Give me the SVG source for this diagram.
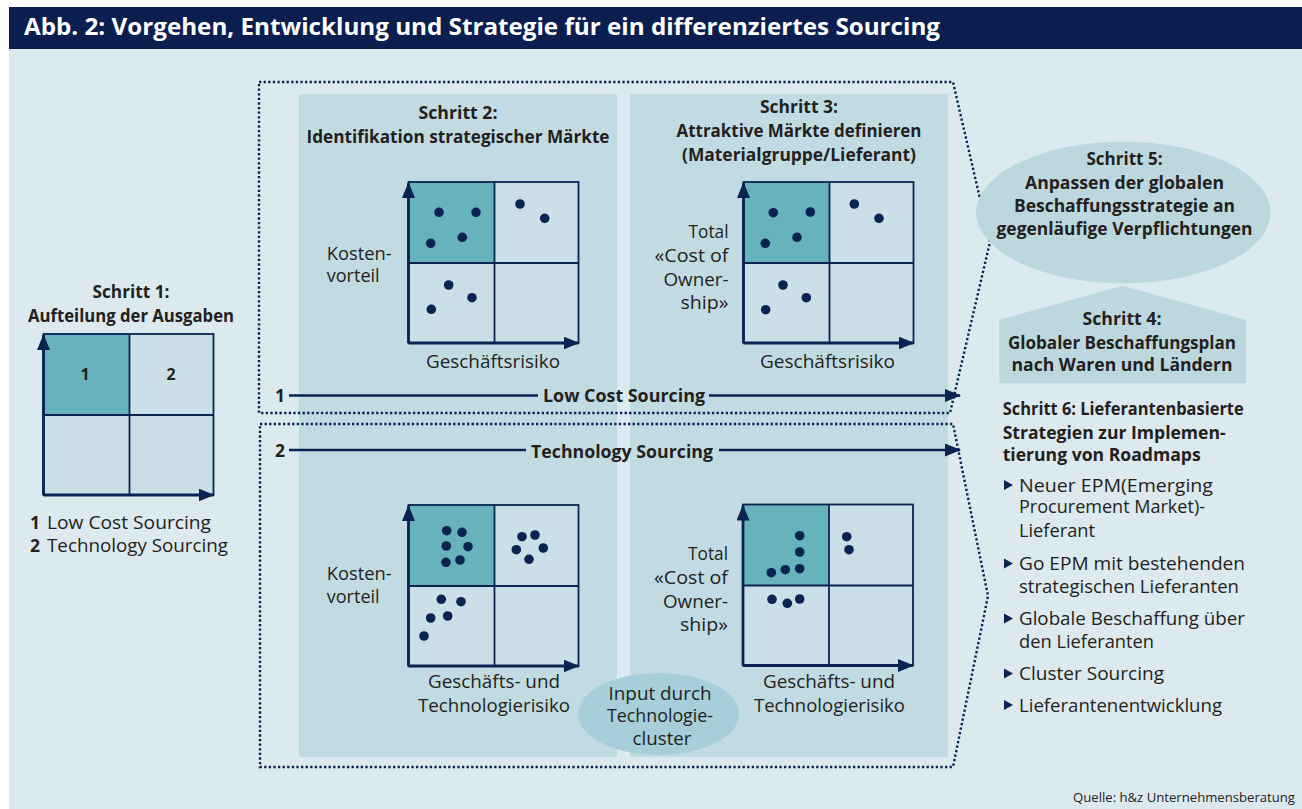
<svg xmlns="http://www.w3.org/2000/svg" xmlns:xlink="http://www.w3.org/1999/xlink" width="1302" height="809" viewBox="0 0 1302 809">
  <defs>
    <style>
      text { font-family: "Open Sans", "Noto Sans", "Liberation Sans", sans-serif; fill: #231f20; }
      .title { font-size: 24px; font-weight: 700; fill: #ffffff; }
      .h { font-size: 17.5px; font-weight: 700; text-anchor: middle; }
      .hl { font-size: 17.5px; font-weight: 700; }
      .t { font-size: 17.5px; font-weight: 400; }
      .tc { font-size: 17.5px; font-weight: 400; text-anchor: middle; }
      .tr { font-size: 17.5px; font-weight: 400; text-anchor: end; }
      .num { font-size: 16px; font-weight: 700; text-anchor: middle; }
      .src { font-size: 13.3px; font-weight: 400; text-anchor: end; }
      .panel { fill: #c2dbe3; }
      .cell-hi { fill: #67b3bd; }
      .cell { fill: #cbdfe6; }
      .grid { fill: none; stroke: #0b2352; stroke-width: 1.8; }
      .axis { fill: none; stroke: #0b2352; stroke-width: 2.8; }
      .dot { fill: #0b2352; }
      .frame { fill: none; stroke: #0b2352; stroke-width: 2.4; stroke-dasharray: 2.3 2.3; }
      .flow { fill: none; stroke: #0b2352; stroke-width: 2.4; }
      .bullet { fill: #0b2352; }
    </style>
    <marker id="head" viewBox="0 0 16 13" markerWidth="16" markerHeight="13" refX="15" refY="6.5" orient="auto" markerUnits="userSpaceOnUse">
      <path d="M0,0 L16,6.5 L0,13 Z" fill="#0b2352"/>
    </marker>
    <!-- 2x2 portfolio matrix, 170 x 162, origin at top-left -->
    <g id="matrix">
      <rect class="cell-hi" x="0" y="0" width="86" height="81"/>
      <rect class="cell" x="86" y="0" width="84" height="81"/>
      <rect class="cell" x="0" y="81" width="86" height="81"/>
      <rect class="cell" x="86" y="81" width="84" height="81"/>
      <rect class="grid" x="0" y="0" width="170" height="161"/>
      <line class="grid" x1="86" y1="0" x2="86" y2="161"/>
      <line class="grid" x1="0" y1="81" x2="170" y2="81"/>
      <line class="axis" x1="0" y1="161" x2="0" y2="1" marker-end="url(#head)"/>
      <line class="axis" x1="0" y1="161" x2="170" y2="161" marker-end="url(#head)"/>
    </g>
  </defs>

  <!-- page background and title bar -->
  <rect x="0" y="0" width="1302" height="809" fill="#ffffff"/>
  <rect x="9" y="49" width="1293" height="760" fill="#dce9ee"/>
  <g id="title">
    <rect x="9" y="7" width="1293" height="42" fill="#0a1f4f"/>
    <text class="title" x="24" y="35" textLength="916" lengthAdjust="spacingAndGlyphs">Abb. 2: Vorgehen, Entwicklung und Strategie für ein differenziertes Sourcing</text>
  </g>

  <!-- column panels -->
  <g id="panels">
    <rect class="panel" x="299" y="94" width="318" height="663"/>
    <rect class="panel" x="630" y="94" width="318" height="663"/>
  </g>

  <!-- step 1 -->
  <g id="step1">
    <text class="h" x="131" y="298" textLength="77" lengthAdjust="spacingAndGlyphs">Schritt 1:</text>
    <text class="h" x="131" y="321.5" textLength="206" lengthAdjust="spacingAndGlyphs">Aufteilung der Ausgaben</text>
    <use xlink:href="#matrix" x="43.5" y="334"/>
    <text class="num" x="85" y="380">1</text>
    <text class="num" x="171" y="380">2</text>
    <text class="hl" x="30" y="528.5" font-size="16">1</text>
    <text class="t" x="47" y="528.5" textLength="164" lengthAdjust="spacingAndGlyphs">Low Cost Sourcing</text>
    <text class="hl" x="30" y="552" font-size="16">2</text>
    <text class="t" x="47" y="552" textLength="181" lengthAdjust="spacingAndGlyphs">Technology Sourcing</text>
  </g>

  <!-- step 2: market identification -->
  <g id="step2">
    <text class="h" x="458" y="119" textLength="79" lengthAdjust="spacingAndGlyphs">Schritt 2:</text>
    <text class="h" x="458" y="143" textLength="303" lengthAdjust="spacingAndGlyphs">Identifikation strategischer Märkte</text>
    <use xlink:href="#matrix" x="408.5" y="182"/>
    <g>
      <circle class="dot" cx="439" cy="212.3" r="4.8"/>
      <circle class="dot" cx="476" cy="212.3" r="4.8"/>
      <circle class="dot" cx="430.7" cy="243.3" r="4.8"/>
      <circle class="dot" cx="462.3" cy="237.3" r="4.8"/>
      <circle class="dot" cx="520" cy="204" r="4.8"/>
      <circle class="dot" cx="544.7" cy="218.3" r="4.8"/>
      <circle class="dot" cx="448.7" cy="285" r="4.8"/>
      <circle class="dot" cx="472" cy="297.7" r="4.8"/>
      <circle class="dot" cx="431.3" cy="309.3" r="4.8"/>
    </g>
    <text class="t" x="326.7" y="260" textLength="65" lengthAdjust="spacingAndGlyphs">Kosten-</text>
    <text class="t" x="326.7" y="281.7" textLength="53" lengthAdjust="spacingAndGlyphs">vorteil</text>
    <text class="tc" x="493" y="368" textLength="134" lengthAdjust="spacingAndGlyphs">Geschäftsrisiko</text>

    <use xlink:href="#matrix" x="408.5" y="505"/>
    <g>
      <circle class="dot" cx="446.7" cy="530.7" r="4.8"/>
      <circle class="dot" cx="462" cy="532.3" r="4.8"/>
      <circle class="dot" cx="446.3" cy="546" r="4.8"/>
      <circle class="dot" cx="468" cy="546.7" r="4.8"/>
      <circle class="dot" cx="446" cy="562.3" r="4.8"/>
      <circle class="dot" cx="460" cy="560" r="4.8"/>
      <circle class="dot" cx="522" cy="536.7" r="4.8"/>
      <circle class="dot" cx="535" cy="535" r="4.8"/>
      <circle class="dot" cx="516.3" cy="549.7" r="4.8"/>
      <circle class="dot" cx="543.3" cy="548" r="4.8"/>
      <circle class="dot" cx="529" cy="559.3" r="4.8"/>
      <circle class="dot" cx="441.3" cy="599.3" r="4.8"/>
      <circle class="dot" cx="461" cy="601.7" r="4.8"/>
      <circle class="dot" cx="430.7" cy="618" r="4.8"/>
      <circle class="dot" cx="447.7" cy="616" r="4.8"/>
      <circle class="dot" cx="424" cy="636" r="4.8"/>
    </g>
    <text class="t" x="326.7" y="580" textLength="65" lengthAdjust="spacingAndGlyphs">Kosten-</text>
    <text class="t" x="326.7" y="602.7" textLength="53" lengthAdjust="spacingAndGlyphs">vorteil</text>
    <text class="tc" x="494" y="688" textLength="132" lengthAdjust="spacingAndGlyphs">Geschäfts- und</text>
    <text class="tc" x="494" y="711.7" textLength="152" lengthAdjust="spacingAndGlyphs">Technologierisiko</text>
  </g>

  <!-- step 3: attractive markets -->
  <g id="step3">
    <text class="h" x="799" y="113" textLength="78" lengthAdjust="spacingAndGlyphs">Schritt 3:</text>
    <text class="h" x="799" y="137" textLength="245" lengthAdjust="spacingAndGlyphs">Attraktive Märkte definieren</text>
    <text class="h" x="799" y="161" textLength="234" lengthAdjust="spacingAndGlyphs">(Materialgruppe/Lieferant)</text>
    <use xlink:href="#matrix" x="743.5" y="182"/>
    <g>
      <circle class="dot" cx="773.3" cy="212.7" r="4.8"/>
      <circle class="dot" cx="810.3" cy="212" r="4.8"/>
      <circle class="dot" cx="765.3" cy="243.3" r="4.8"/>
      <circle class="dot" cx="797" cy="237.3" r="4.8"/>
      <circle class="dot" cx="854.3" cy="204" r="4.8"/>
      <circle class="dot" cx="879" cy="218.3" r="4.8"/>
      <circle class="dot" cx="783" cy="285" r="4.8"/>
      <circle class="dot" cx="806.3" cy="297.7" r="4.8"/>
      <circle class="dot" cx="765.7" cy="309.7" r="4.8"/>
    </g>
    <text class="tr" x="728.5" y="238" textLength="40" lengthAdjust="spacingAndGlyphs">Total</text>
    <text class="tr" x="728.5" y="262" textLength="74" lengthAdjust="spacingAndGlyphs">«Cost of</text>
    <text class="tr" x="728.5" y="285.5" textLength="65" lengthAdjust="spacingAndGlyphs">Owner-</text>
    <text class="tr" x="728.5" y="309" textLength="48" lengthAdjust="spacingAndGlyphs">ship»</text>
    <text class="tc" x="827.5" y="368" textLength="135" lengthAdjust="spacingAndGlyphs">Geschäftsrisiko</text>

    <use xlink:href="#matrix" x="743" y="504.5"/>
    <g>
      <circle class="dot" cx="799.7" cy="535.7" r="4.8"/>
      <circle class="dot" cx="799.7" cy="552" r="4.8"/>
      <circle class="dot" cx="799.7" cy="568.7" r="4.8"/>
      <circle class="dot" cx="785.3" cy="569.7" r="4.8"/>
      <circle class="dot" cx="771.3" cy="572.7" r="4.8"/>
      <circle class="dot" cx="846.7" cy="536.7" r="4.8"/>
      <circle class="dot" cx="849" cy="549.7" r="4.8"/>
      <circle class="dot" cx="772" cy="599.3" r="4.8"/>
      <circle class="dot" cx="787.3" cy="603.3" r="4.8"/>
      <circle class="dot" cx="799.7" cy="599" r="4.8"/>
    </g>
    <text class="tr" x="728" y="560" textLength="40" lengthAdjust="spacingAndGlyphs">Total</text>
    <text class="tr" x="728" y="584" textLength="74" lengthAdjust="spacingAndGlyphs">«Cost of</text>
    <text class="tr" x="728" y="608.3" textLength="65" lengthAdjust="spacingAndGlyphs">Owner-</text>
    <text class="tr" x="728" y="630.7" textLength="48" lengthAdjust="spacingAndGlyphs">ship»</text>
    <text class="tc" x="829" y="688.3" textLength="132" lengthAdjust="spacingAndGlyphs">Geschäfts- und</text>
    <text class="tc" x="829.5" y="711.7" textLength="151" lengthAdjust="spacingAndGlyphs">Technologierisiko</text>
  </g>

  <!-- dotted frames of the two sourcing tracks -->
  <g id="frames">
    <path class="frame" d="M259,82 H953 L990,242 L950,413 H259 Z"/>
    <path class="frame" d="M260,424 H953 L988,596 L953,767 H260 Z"/>
  </g>

  <!-- input from technology clusters -->
  <g id="input-cluster">
    <ellipse cx="658.5" cy="714" rx="80.5" ry="41" fill="#a6cfda"/>
    <text class="tc" x="660" y="700" textLength="103" lengthAdjust="spacingAndGlyphs">Input durch</text>
    <text class="tc" x="660" y="721.7" textLength="106" lengthAdjust="spacingAndGlyphs">Technologie-</text>
    <text class="tc" x="662" y="745" textLength="59" lengthAdjust="spacingAndGlyphs">cluster</text>
  </g>

  <!-- sourcing tracks -->
  <g id="connectors">
    <text class="hl" x="275" y="401.5" font-size="16">1</text>
    <line class="flow" x1="289" y1="395.5" x2="538" y2="395.5"/>
    <text class="h" x="624" y="401.5" textLength="162" lengthAdjust="spacingAndGlyphs">Low Cost Sourcing</text>
    <line class="flow" x1="709" y1="395.5" x2="960" y2="395.5" marker-end="url(#head)"/>

    <text class="hl" x="275" y="457" font-size="16">2</text>
    <line class="flow" x1="289" y1="450" x2="526" y2="450"/>
    <text class="h" x="622" y="457.5" textLength="182" lengthAdjust="spacingAndGlyphs">Technology Sourcing</text>
    <line class="flow" x1="719" y1="450" x2="960" y2="450" marker-end="url(#head)"/>
  </g>

  <!-- step 5 -->
  <g id="step5">
    <ellipse cx="1123.3" cy="212.5" rx="147.3" ry="70.8" fill="#bdd7df"/>
    <text class="h" x="1124.5" y="165" textLength="76" lengthAdjust="spacingAndGlyphs">Schritt 5:</text>
    <text class="h" x="1124.5" y="188.5" textLength="199" lengthAdjust="spacingAndGlyphs">Anpassen der globalen</text>
    <text class="h" x="1124.5" y="212" textLength="221" lengthAdjust="spacingAndGlyphs">Beschaffungsstrategie an</text>
    <text class="h" x="1124.5" y="235" textLength="256" lengthAdjust="spacingAndGlyphs">gegenläufige Verpflichtungen</text>
  </g>

  <!-- step 4 -->
  <g id="step4">
    <polygon points="999.3,320 1122.7,285.7 1246,320 1246,383.3 999.3,383.3" fill="#bdd7df"/>
    <text class="h" x="1122" y="325" textLength="79" lengthAdjust="spacingAndGlyphs">Schritt 4:</text>
    <text class="h" x="1122" y="348.5" textLength="228" lengthAdjust="spacingAndGlyphs">Globaler Beschaffungsplan</text>
    <text class="h" x="1122" y="371" textLength="221" lengthAdjust="spacingAndGlyphs">nach Waren und Ländern</text>
  </g>

  <!-- step 6 -->
  <g id="step6">
    <text class="hl" x="1002.7" y="415" textLength="241" lengthAdjust="spacingAndGlyphs">Schritt 6: Lieferantenbasierte</text>
    <text class="hl" x="1002.7" y="438.5" textLength="223" lengthAdjust="spacingAndGlyphs">Strategien zur Implemen-</text>
    <text class="hl" x="1002.7" y="461" textLength="198" lengthAdjust="spacingAndGlyphs">tierung von Roadmaps</text>

    <polygon class="bullet" points="1004,480 1013,485 1004,490"/>
    <text class="t" x="1019" y="491.7" textLength="194" lengthAdjust="spacingAndGlyphs">Neuer EPM(Emerging</text>
    <text class="t" x="1019" y="513.3" textLength="186" lengthAdjust="spacingAndGlyphs">Procurement Market)-</text>
    <text class="t" x="1019" y="536.7" textLength="76" lengthAdjust="spacingAndGlyphs">Lieferant</text>

    <polygon class="bullet" points="1004,558.5 1013,563.5 1004,568.5"/>
    <text class="t" x="1019" y="570" textLength="226" lengthAdjust="spacingAndGlyphs">Go EPM mit bestehenden</text>
    <text class="t" x="1019" y="593.3" textLength="220" lengthAdjust="spacingAndGlyphs">strategischen Lieferanten</text>

    <polygon class="bullet" points="1004,613.5 1013,618.5 1004,623.5"/>
    <text class="t" x="1019" y="625" textLength="226" lengthAdjust="spacingAndGlyphs">Globale Beschaffung über</text>
    <text class="t" x="1019" y="648.3" textLength="135" lengthAdjust="spacingAndGlyphs">den Lieferanten</text>

    <polygon class="bullet" points="1004,668.5 1013,673.5 1004,678.5"/>
    <text class="t" x="1019" y="680" textLength="145" lengthAdjust="spacingAndGlyphs">Cluster Sourcing</text>

    <polygon class="bullet" points="1004,700 1013,705 1004,710"/>
    <text class="t" x="1019" y="711.7" textLength="203" lengthAdjust="spacingAndGlyphs">Lieferantenentwicklung</text>
  </g>

  <g id="source">
    <text class="src" x="1295" y="802" textLength="222" lengthAdjust="spacingAndGlyphs">Quelle: h&amp;z Unternehmensberatung</text>
  </g>
</svg>
